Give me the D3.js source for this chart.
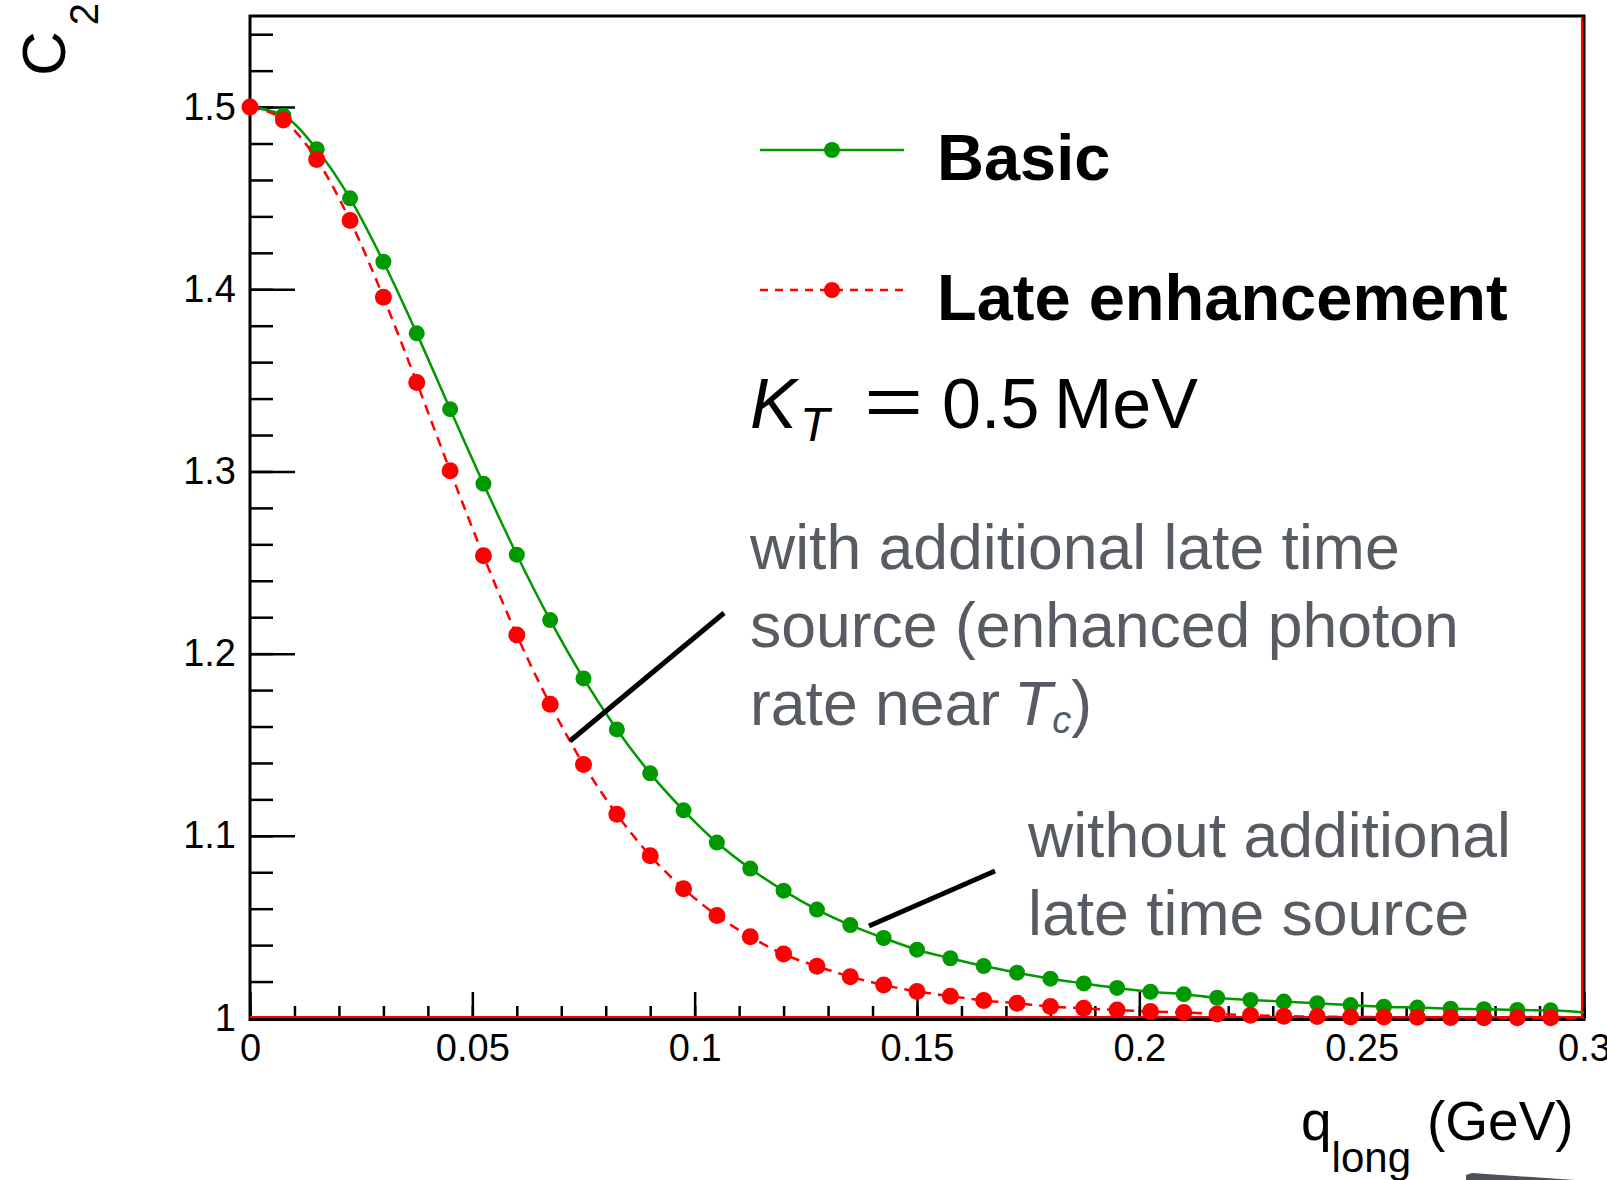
<!DOCTYPE html>
<html lang="en">
  <head>
    <meta charset="utf-8">
    <title>C2 vs q_long</title>
    <script type="text/javascript" src="https://cdn.jsdelivr.net/npm/d3@7/dist/d3.min.js"></script>
    <style>
      body { margin: 0; background: #fff; }
      text { font-family: "Liberation Sans", Arial, sans-serif; }
    </style>
  </head>
  <body>
    <script type="text/javascript">
      var width = 1607;
      var height = 1180;

      // q_long (GeV) of every point
      var qValues = [0, 0.0075, 0.015, 0.0225, 0.03, 0.0375, 0.045, 0.0525, 0.06, 0.0675,
                     0.075, 0.0825, 0.09, 0.0975, 0.105, 0.1125, 0.12, 0.1275, 0.135, 0.1425,
                     0.15, 0.1575, 0.165, 0.1725, 0.18, 0.1875, 0.195, 0.2025, 0.21, 0.2175,
                     0.225, 0.2325, 0.24, 0.2475, 0.255, 0.2625, 0.27, 0.2775, 0.285, 0.2925];

      var basicC2 = [1.5000, 1.4953, 1.4769, 1.4499, 1.4151, 1.3758, 1.3342, 1.2933, 1.2543, 1.2184,
                     1.1864, 1.1584, 1.1343, 1.1140, 1.0963, 1.0820, 1.0699, 1.0595, 1.0510, 1.0439,
                     1.0375, 1.0328, 1.0285, 1.0249, 1.0216, 1.0190, 1.0165, 1.0144, 1.0131, 1.0111,
                     1.0099, 1.0090, 1.0081, 1.0071, 1.0062, 1.0057, 1.0051, 1.0048, 1.0044, 1.0042];

      var lateC2 = [1.5000, 1.4929, 1.4713, 1.4378, 1.3956, 1.3488, 1.3004, 1.2537, 1.2102, 1.1722,
                    1.1392, 1.1118, 1.0891, 1.0710, 1.0563, 1.0446, 1.0351, 1.0284, 1.0227, 1.0181,
                    1.0146, 1.0120, 1.0096, 1.0081, 1.0063, 1.0053, 1.0044, 1.0035, 1.0030, 1.0022,
                    1.0015, 1.0010, 1.0008, 1.0006, 1.0005, 1.0004, 1.0003, 1.0002, 1.0002, 1.0001];

      // curves run on to the right edge of the frame
      var basicLineEnd = [0.3, 1.0030];
      var lateLineEnd = [0.3, 1.0000];

      var xTickValues = [0, 0.05, 0.1, 0.15, 0.2, 0.25, 0.3];
      var xTickLabels = ["0", "0.05", "0.1", "0.15", "0.2", "0.25", "0.3"];
      var yTickValues = [1, 1.1, 1.2, 1.3, 1.4, 1.5];
      var yTickLabels = ["1", "1.1", "1.2", "1.3", "1.4", "1.5"];

      var seriesNames = ["Basic", "Late enhancement"];
      var green = "#009a00";
      var red = "#ff0000";
      var grey = "#575b62";

      var xScale = d3.scaleLinear().domain([0, 0.3]).range([250, 1584]);
      var yScale = d3.scaleLinear().domain([1, 1.55]).range([1018, 16]);

      var svg = d3.select("body")
            .append("svg")
            .attr("width", width)
            .attr("height", height);

      svg.append("rect").attr("width", width).attr("height", height).attr("fill", "#fff");

      // minor + major ticks, pointing into the frame
      var xMinor = d3.range(0, 31).map(function(i){ return i / 100; });
      var yMinor = d3.range(0, 28).map(function(i){ return 1 + i / 50; });

      svg.append("g")
         .attr("transform", "translate(0," + yScale(1) + ")")
         .call(d3.axisBottom(xScale).tickValues(xMinor).tickSize(-12).tickFormat(""))
         .call(function(g){ g.select(".domain").remove(); });

      svg.append("g")
         .attr("transform", "translate(0," + yScale(1) + ")")
         .call(d3.axisBottom(xScale).tickValues(xTickValues).tickSize(-26).tickPadding(16)
                 .tickFormat(function(d, i){ return xTickLabels[i]; }))
         .call(function(g){ g.select(".domain").remove(); });

      svg.append("g")
         .attr("transform", "translate(" + xScale(0) + ",0)")
         .call(d3.axisLeft(yScale).tickValues(yMinor).tickSize(-23).tickFormat(""))
         .call(function(g){ g.select(".domain").remove(); });

      svg.append("g")
         .attr("transform", "translate(" + xScale(0) + ",0)")
         .call(d3.axisLeft(yScale).tickValues(yTickValues).tickSize(-45).tickPadding(14)
                 .tickFormat(function(d, i){ return yTickLabels[i]; }))
         .call(function(g){ g.select(".domain").remove(); });

      svg.selectAll(".tick line").attr("stroke", "#000").attr("stroke-width", 2.5);
      svg.selectAll(".tick text")
         .attr("fill", "#000")
         .attr("font-size", "38px")
         .attr("font-family", "Liberation Sans, Arial, sans-serif");

      // frame
      svg.append("rect")
         .attr("x", xScale(0))
         .attr("y", yScale(1.55))
         .attr("width", xScale(0.3) - xScale(0))
         .attr("height", yScale(1) - yScale(1.55) + 1.5)
         .attr("fill", "none")
         .attr("stroke", "#000")
         .attr("stroke-width", 3);

      // red outline along the bottom and the right edge
      svg.append("path")
         .attr("d", "M" + xScale(0) + "," + (yScale(1) - 1) +
                    "H" + (xScale(0.3) - 2) + "V" + (yScale(1.55) + 2))
         .attr("fill", "none")
         .attr("stroke", red)
         .attr("stroke-width", 2.2);

      var line = d3.line()
                   .x(function(d){ return xScale(d[0]); })
                   .y(function(d){ return yScale(d[1]); })
                   .curve(d3.curveMonotoneX);

      var basicPts = qValues.map(function(q, i){ return [q, basicC2[i]]; });
      var latePts = qValues.map(function(q, i){ return [q, lateC2[i]]; });

      svg.append("path")
         .attr("d", line(basicPts.concat([basicLineEnd])))
         .attr("fill", "none")
         .attr("stroke", green)
         .attr("stroke-width", 2.5);

      svg.append("g").selectAll("circle")
         .data(basicPts)
         .enter()
         .append("circle")
         .attr("cx", function(d){ return xScale(d[0]); })
         .attr("cy", function(d){ return yScale(d[1]); })
         .attr("r", 8)
         .attr("fill", green);

      svg.append("path")
         .attr("d", line(latePts.concat([lateLineEnd])))
         .attr("fill", "none")
         .attr("stroke", red)
         .attr("stroke-width", 2.5)
         .attr("stroke-dasharray", "10,7");

      svg.append("g").selectAll("circle")
         .data(latePts)
         .enter()
         .append("circle")
         .attr("cx", function(d){ return xScale(d[0]); })
         .attr("cy", function(d){ return yScale(d[1]); })
         .attr("r", 8.5)
         .attr("fill", red);

      // legend
      var legend = svg.append("g");
      var legendRows = [
        { name: seriesNames[0], color: green, dash: null, y: 150 },
        { name: seriesNames[1], color: red, dash: "8,7", y: 290 }
      ];
      legendRows.forEach(function(r){
        legend.append("line")
              .attr("x1", 760).attr("x2", 904)
              .attr("y1", r.y).attr("y2", r.y)
              .attr("stroke", r.color)
              .attr("stroke-width", 2.5)
              .attr("stroke-dasharray", r.dash);
        legend.append("circle")
              .attr("cx", 832).attr("cy", r.y).attr("r", 8)
              .attr("fill", r.color);
        legend.append("text")
              .attr("x", 937).attr("y", r.y + 30)
              .attr("font-size", "65px")
              .attr("font-weight", "bold")
              .attr("fill", "#000")
              .text(r.name);
      });

      // K_T = 0.5 MeV
      var kt = svg.append("text").attr("y", 428).attr("font-size", "70px").attr("fill", "#000");
      kt.append("tspan").attr("x", 750).attr("font-style", "italic").text("K");
      kt.append("tspan").attr("x", 800).attr("dy", 13).attr("font-size", "48px")
        .attr("font-style", "italic").text("T");
      kt.append("tspan").attr("x", 942).attr("dy", -13).text("0.5");
      kt.append("tspan").attr("x", 1054).text("MeV");
      svg.append("text")
         .attr("transform", "translate(864,426) scale(1.45,1)")
         .attr("font-size", "70px")
         .attr("fill", "#000")
         .text("=");

      // annotations
      var noteFont = "'Roboto Light', 'Lato Light', Roboto, sans-serif";
      var noteSize = "62.5px";
      var note1 = ["with additional late time", "source (enhanced photon"];
      note1.forEach(function(s, i){
        svg.append("text")
           .attr("x", 750).attr("y", 569 + i * 78)
           .attr("font-family", noteFont)
           .attr("font-weight", 300)
           .attr("font-size", noteSize)
           .attr("fill", grey)
           .text(s);
      });
      var rate = svg.append("text")
           .attr("x", 750).attr("y", 725)
           .attr("font-family", noteFont)
           .attr("font-weight", 300)
           .attr("font-size", noteSize)
           .attr("fill", grey);
      rate.append("tspan").text("rate near");
      rate.append("tspan").attr("x", 1014).attr("font-style", "italic").text("T");
      rate.append("tspan").attr("font-style", "italic").attr("font-size", "38px").attr("dy", 8).text("c");
      rate.append("tspan").attr("dy", -8).text(")");

      var note2 = ["without additional", "late time source"];
      note2.forEach(function(s, i){
        svg.append("text")
           .attr("x", 1028).attr("y", 857 + i * 78)
           .attr("font-family", noteFont)
           .attr("font-weight", 300)
           .attr("font-size", noteSize)
           .attr("fill", grey)
           .text(s);
      });

      svg.append("line")
         .attr("x1", 570).attr("y1", 741).attr("x2", 724).attr("y2", 613)
         .attr("stroke", "#000").attr("stroke-width", 5);
      svg.append("line")
         .attr("x1", 869).attr("y1", 926).attr("x2", 995).attr("y2", 871)
         .attr("stroke", "#000").attr("stroke-width", 5);

      // axis titles
      var yt = svg.append("text")
                  .attr("transform", "translate(65,76) rotate(-90)")
                  .attr("font-size", "62px")
                  .attr("fill", "#000");
      yt.append("tspan").text("C");
      yt.append("tspan").attr("dx", 6).attr("dy", 33).attr("font-size", "40px").text("2");

      var xt = svg.append("text")
                  .attr("x", 1301).attr("y", 1140)
                  .attr("font-size", "55px")
                  .attr("fill", "#000");
      xt.append("tspan").text("q");
      xt.append("tspan").attr("dy", 32).attr("font-size", "42px").text("long");
      xt.append("tspan").attr("x", 1427).attr("dy", -32).text("(GeV)");

      // grey wedge cut off at the bottom edge
      svg.append("path")
         .attr("d", "M1466,1175 L1472,1173 L1590,1181 L1466,1181 Z")
         .attr("fill", "#4d5156");
    </script>
  </body>
</html>
